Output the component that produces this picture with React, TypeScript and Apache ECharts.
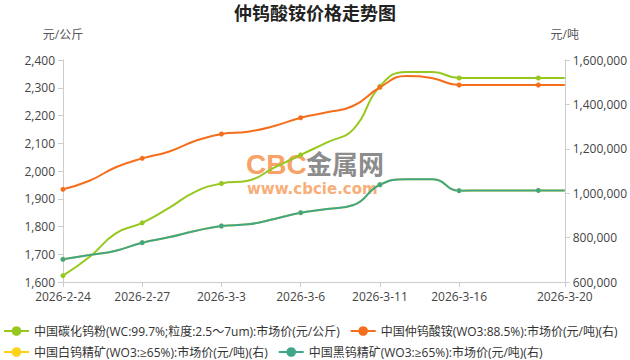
import React, { useEffect, useRef } from "react";
import * as echarts from "echarts";

const dates = [
  "2026-2-24", "2026-2-25", "2026-2-26", "2026-2-27", "2026-2-28",
  "2026-3-2", "2026-3-3", "2026-3-4", "2026-3-5", "2026-3-6",
  "2026-3-9", "2026-3-10", "2026-3-11", "2026-3-12", "2026-3-13",
  "2026-3-16", "2026-3-17", "2026-3-18", "2026-3-19", "2026-3-20",
];

const seriesNames = [
  "中国碳化钨粉(WC:99.7%;粒度:2.5～7um):市场价(元/公斤)",
  "中国仲钨酸铵(WO3:88.5%):市场价(元/吨)(右)",
  "中国白钨精矿(WO3:≥65%):市场价(元/吨)(右)",
  "中国黑钨精矿(WO3:≥65%):市场价(元/吨)(右)",
];

// 元/公斤 (left axis)
const wcPowder = [
  1623, 1690, 1775, 1813, 1866, 1925, 1955, 1965, 2012, 2058,
  2103, 2151, 2305, 2357, 2357, 2335, 2335, 2335, 2335, 2335,
];
// 元/吨 (right axis)
const apt = [
  1017600, 1056000, 1116700, 1157000, 1187000, 1235000, 1266700, 1277000, 1302700, 1340000,
  1364400, 1394000, 1477000, 1528000, 1517600, 1487400, 1487400, 1487400, 1487400, 1487400,
];
const scheelite = [
  702200, 721600, 741100, 777200, 801200, 829700, 852300, 859700, 883800, 912300,
  928800, 946800, 1038000, 1062400, 1062400, 1011400, 1012500, 1012500, 1012500, 1012500,
];
const wolframite = [
  702200, 721600, 741100, 777200, 801200, 829700, 852300, 859700, 883800, 912300,
  928800, 946800, 1038000, 1062400, 1062400, 1011400, 1012500, 1012500, 1012500, 1012500,
];

const colors = ["#97c81f", "#f46e1c", "#ffd21a", "#3fa68a"];

const FONT = '"Open Sans", "Noto Sans CJK SC", sans-serif';

export default function App() {
  const ref = useRef<HTMLDivElement>(null);
  useEffect(() => {
    if (!ref.current) return;
    document.body.style.margin = "0";
    document.body.style.overflow = "hidden";
    const chart = echarts.init(ref.current, null, { renderer: "svg" });
    const lastIdx = dates.length - 1;
    const showLabel = (i: number) => i % 3 === 0 || i === lastIdx;
    const symbolSize = (_v: any, p: any) => (p.dataIndex % 3 === 0 ? 5 : 0);
    const fmt = (v: number) => v.toLocaleString("en-US");
    const axisLine = { show: true, lineStyle: { color: "#cccccc" } };
    const mkSeries = (i: number, data: number[], yIdx: number) => ({
      name: seriesNames[i],
      type: "line",
      yAxisIndex: yIdx,
      data,
      smooth: true,
      symbol: "circle",
      symbolSize,
      showSymbol: true,
      showAllSymbol: true,
      z: 3,
      lineStyle: { width: 2, color: colors[i] },
      itemStyle: { color: colors[i] },
    });
    const legendBase = {
      padding: 0,
      itemWidth: 25,
      itemHeight: 12,
      itemGap: 10,
      textStyle: { fontSize: 12, color: "#333", fontFamily: FONT },
    };
    chart.setOption({
      animation: false,
      textStyle: { fontFamily: FONT },
      title: {
        text: "仲钨酸铵价格走势图",
        left: "center",
        top: 3,
        padding: 0,
        textStyle: {
          fontSize: 18,
          fontWeight: "bold",
          color: "#222",
          fontFamily: '"Noto Sans CJK SC", sans-serif',
        },
      },
      color: colors,
      grid: { left: 63, right: 63, top: 60, bottom: 78, containLabel: false },
      legend: [
        { ...legendBase, left: 3, top: 325, data: [seriesNames[0], seriesNames[1]] },
        { ...legendBase, left: 3, top: 346, data: [seriesNames[2], seriesNames[3]] },
      ],
      graphic: [
        {
          type: "text",
          left: 246,
          top: 150,
          z: 0,
          style: {
            text: "CBC",
            fontSize: 28,
            fontWeight: "bold",
            fontFamily: "Liberation Sans",
            fill: "#f7a367",
          },
        },
        {
          type: "text",
          left: 306,
          top: 149,
          z: 0,
          style: {
            text: "金属网",
            fontSize: 26,
            fontWeight: "bold",
            fontFamily: "Noto Sans CJK SC",
            fill: "#8c8c8c",
          },
        },
        {
          type: "text",
          left: 247,
          top: 181,
          z: 0,
          style: {
            text: "www.cbcie.com",
            fontSize: 15,
            fontWeight: "bold",
            fontFamily: "DejaVu Sans",
            fill: "#f8ae78",
          },
        },
      ],
      xAxis: {
        type: "category",
        data: dates,
        boundaryGap: false,
        axisLine,
        axisTick: { show: true, interval: (i: number) => showLabel(i), lineStyle: { color: "#cccccc" } },
        axisLabel: {
          interval: (i: number) => showLabel(i),
          color: "#444",
          fontSize: 12,
          margin: 8,
          showMaxLabel: true,
        },
        splitLine: { show: false },
      },
      yAxis: [
        {
          type: "value",
          name: "元/公斤",
          nameGap: 20,
          nameTextStyle: { color: "#555", fontSize: 12 },
          min: 1600,
          max: 2400,
          interval: 100,
          axisLine,
          axisTick: { show: true, lineStyle: { color: "#cccccc" } },
          axisLabel: { color: "#444", fontSize: 12, formatter: fmt },
          splitLine: { show: false },
        },
        {
          type: "value",
          name: "元/吨",
          nameGap: 20,
          position: "right",
          nameTextStyle: { color: "#555", fontSize: 12 },
          min: 600000,
          max: 1600000,
          interval: 200000,
          axisLine,
          axisTick: { show: true, lineStyle: { color: "#cccccc" } },
          axisLabel: { color: "#444", fontSize: 12, formatter: fmt },
          splitLine: { show: false },
        },
      ],
      series: [
        mkSeries(0, wcPowder, 0),
        mkSeries(1, apt, 1),
        mkSeries(2, scheelite, 1),
        mkSeries(3, wolframite, 1),
      ],
    });
    return () => chart.dispose();
  }, []);
  return (
    <div
      ref={ref}
      style={{ position: "absolute", left: 0, top: 0, width: 630, height: 360 }}
    />
  );
}
